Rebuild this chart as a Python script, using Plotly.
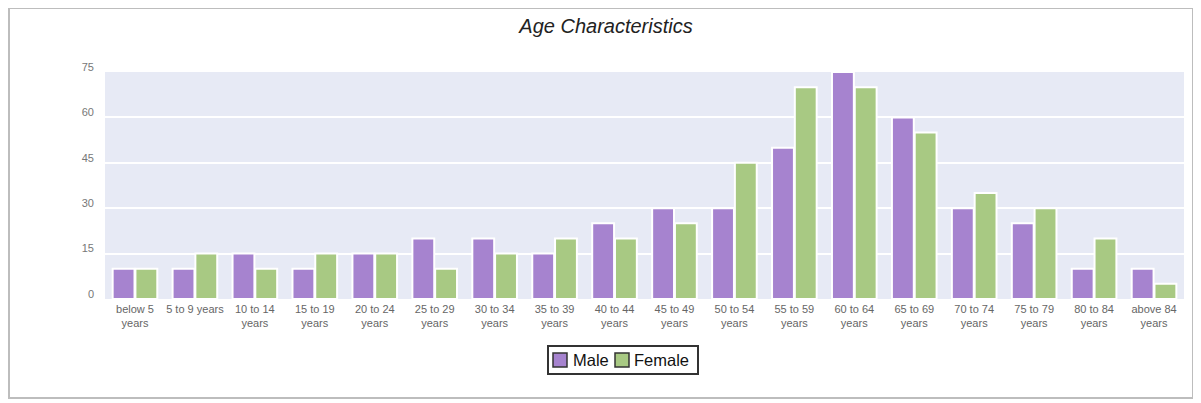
import plotly.graph_objects as go

categories = ["below 5<br>years", "5 to 9 years", "10 to 14<br>years", "15 to 19<br>years",
              "20 to 24<br>years", "25 to 29<br>years", "30 to 34<br>years", "35 to 39<br>years",
              "40 to 44<br>years", "45 to 49<br>years", "50 to 54<br>years", "55 to 59<br>years",
              "60 to 64<br>years", "65 to 69<br>years", "70 to 74<br>years", "75 to 79<br>years",
              "80 to 84<br>years", "above 84<br>years"]
male = [10, 10, 15, 10, 15, 20, 20, 15, 25, 30, 30, 50, 75, 60, 30, 25, 10, 10]
female = [10, 15, 10, 15, 15, 10, 15, 20, 20, 25, 45, 70, 70, 55, 35, 30, 20, 5]
series_names = ["Male", "Female"]
y_ticks = [0, 15, 30, 45, 60, 75]

MALE_C = "#a683cf"
FEMALE_C = "#a8c983"
colors = [MALE_C, FEMALE_C]

# page has an 8px body margin; work in screen coordinates and convert
OFF = 8
W, H = 1201 - OFF, 403 - OFF
L, R, T, B = 105 - OFF, 1184 - OFF, 72 - OFF, 299 - OFF

pw = R - L
ph = B - T
def px(sx):
    return ((sx - OFF) - L) / pw
def py(sy):
    return (B - (sy - OFF)) / ph

fig = go.Figure()
for name, vals, c in zip(series_names, [male, female], colors):
    fig.add_trace(go.Bar(x=categories, y=vals, name=name,
                         marker=dict(color=c, line=dict(color="white", width=2)),
                         showlegend=False))

# outer frame
fig.add_shape(type="rect", xref="paper", yref="paper", x0=px(9), x1=px(1193), y0=py(8), y1=py(398),
              line=dict(color="#bdbdbd", width=2), fillcolor="rgba(0,0,0,0)", layer="below")

# legend drawn manually (box, swatches, labels)
fig.add_shape(type="rect", xref="paper", yref="paper", x0=px(548), x1=px(698), y0=py(346), y1=py(374),
              line=dict(color="#333", width=2), fillcolor="white")
sw_x = [553, 615]
tx_x = [571, 632]
for name, c, sx, tx in zip(series_names, colors, sw_x, tx_x):
    fig.add_shape(type="rect", xref="paper", yref="paper", x0=px(sx), x1=px(sx + 14),
                  y0=py(353), y1=py(367), line=dict(color="#333", width=1.5), fillcolor=c)
    fig.add_annotation(xref="paper", yref="paper", x=px(tx), y=py(360), text=name, showarrow=False,
                       xanchor="left", yanchor="middle", font=dict(size=16.5, color="#111"))

fig.update_layout(
    width=W, height=H,
    margin=dict(l=L, r=W - R, t=T, b=H - B, autoexpand=False),
    paper_bgcolor="white",
    plot_bgcolor="#e7eaf5",
    barmode="group",
    bargap=0.24,
    bargroupgap=0.04,
    title=dict(text="<i>Age Characteristics</i>", x=px(606), xref="paper", xanchor="center",
               y=1 - (26 - OFF) / H, yanchor="middle", yref="container",
               font=dict(family="Liberation Sans, Arial", size=20, color="#222")),
    font=dict(family="Liberation Sans, Arial"),
    showlegend=False,
)
fig.update_xaxes(showgrid=False, tickfont=dict(size=11, color="#666"), ticks="", tickangle=0,
                 showline=False, zeroline=False, ticklabelstandoff=2)
fig.update_yaxes(range=[0, 75], tickvals=y_ticks, showgrid=True, gridcolor="white", gridwidth=2,
                 zeroline=False, tickfont=dict(size=11, color="#777"), ticklabelstandoff=10,
                 ticklabelshift=-5)

fig.write_html("out.html")
